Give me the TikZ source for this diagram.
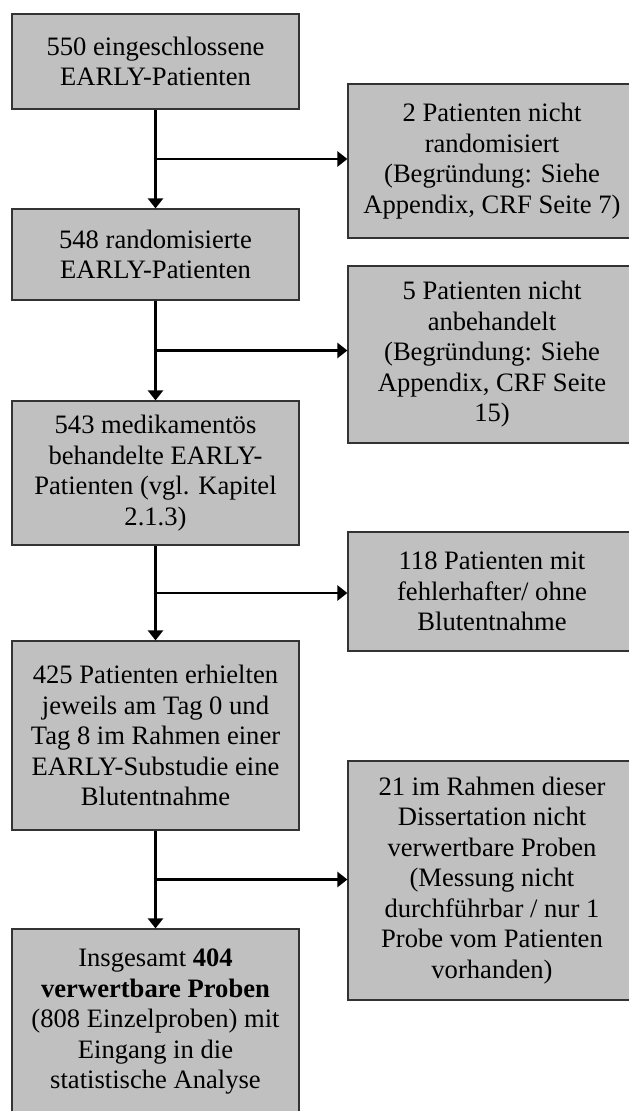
\documentclass[tikz,border=0pt]{standalone}
\usepackage{fontspec}
\setmainfont{Liberation Serif}
\usetikzlibrary{arrows.meta,calc}
\definecolor{boxgray}{RGB}{192,192,192}
\begin{document}
\begin{tikzpicture}[
                    x=1pt, y=-1pt,
                    >={Triangle[length=10pt,width=15pt]},
                    block/.style={rectangle, draw=black!80, line width=1.2pt, fill=boxgray, align=center, inner sep=0pt, font=\fontsize{26.6}{30.5}\selectfont},
                    leftblock/.style={block, minimum width=287pt},
                    rightblock/.style={block, minimum width=288pt},
                    flow/.style={->, line width=2.6pt}
                ]
                \useasboundingbox (0,0) rectangle (629,1111);
                % Blocks
                \node [leftblock, minimum height=95pt] (P550) at (155.5,61.5) {550 eingeschlossene\\EARLY-Patienten};
                \node [rightblock, minimum height=154pt] (NR) at (492,161) {2 Patienten nicht\\randomisiert\\(Begründung: Siehe\\Appendix, CRF Seite 7)};
                \node [leftblock, minimum height=91pt] (P548) at (155.5,254.5) {548 randomisierte\\EARLY-Patienten};
                \node [rightblock, minimum height=177pt] (NB) at (492,354.5) {5 Patienten nicht\\anbehandelt\\(Begründung: Siehe\\Appendix, CRF Seite\\15)};
                \node [leftblock, minimum height=144pt] (P543) at (155.5,473) {543 medikamentös\\behandelte EARLY-\\Patienten (vgl. Kapitel\\2.1.3)};
                \node [rightblock, minimum height=119pt] (B118) at (492,591.5) {118 Patienten mit\\fehlerhafter/ ohne\\Blutentnahme};
                \node [leftblock, minimum height=189pt] (P425) at (155.5,735.5) {425 Patienten erhielten\\jeweils am Tag 0 und\\Tag 8 im Rahmen einer\\EARLY-Substudie eine\\Blutentnahme};
                \node [rightblock, minimum height=239pt] (V21) at (492,880.5) {21 im Rahmen dieser\\Dissertation nicht\\verwertbare Proben\\(Messung nicht\\durchführbar / nur 1\\Probe vom Patienten\\vorhanden)};
                \node [leftblock, minimum height=186pt] (P404) at (155.5,1022) {Insgesamt \textbf{404}\\\textbf{verwertbare Proben}\\(808 Einzelproben) mit\\Eingang in die\\statistische Analyse};

                % Branch points
                \coordinate (J1) at ($(P550.south)!.5!(P548.north)$);
                \coordinate (J2) at ($(P548.south)!.5!(P543.north)$);
                \coordinate (J3) at ($(P543.south)!.5!(P425.north)$);
                \coordinate (J4) at ($(P425.south)!.5!(P404.north)$);

                % Connections
                \draw [flow] (P550) -- (P548);
                \draw [flow] (J1) -- (J1 -| NR.west);
                \draw [flow] (P548) -- (P543);
                \draw [flow] (J2) -- (J2 -| NB.west);
                \draw [flow] (P543) -- (P425);
                \draw [flow] (J3) -- (J3 -| B118.west);
                \draw [flow] (P425) -- (P404);
                \draw [flow] (J4) -- (J4 -| V21.west);
            \end{tikzpicture}
\end{document}
